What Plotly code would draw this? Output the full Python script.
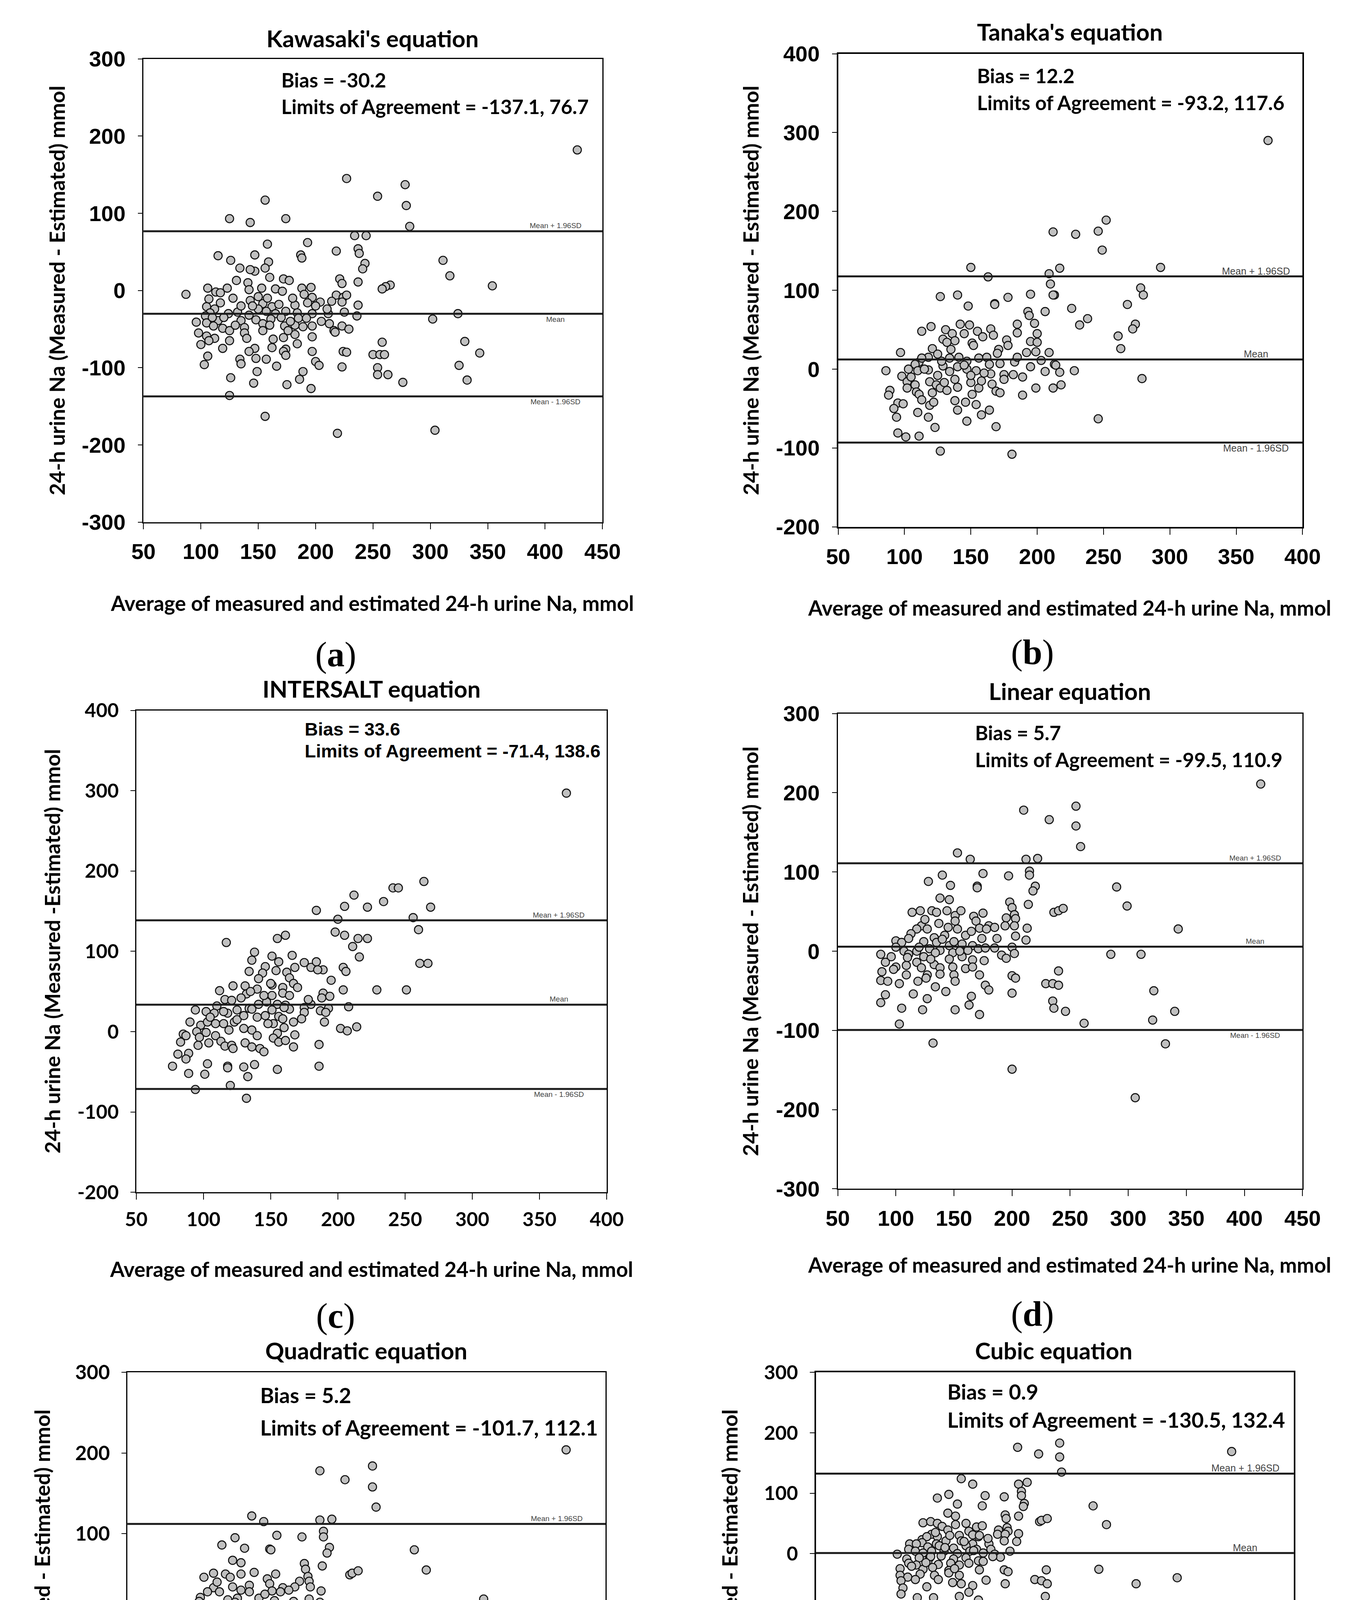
import plotly.graph_objects as go

W, H = 3484, 5179

# ---------------- data ----------------
TITLES = ["Kawasaki's equation", "Tanaka's equation", "INTERSALT equation",
          "Linear equation", "Quadratic equation", "Cubic equation"]
PANEL_LETTERS = ["a", "b", "c", "d", "e", "f"]
BIAS = [-30.2, 12.2, 33.6, 5.7, 5.2, 0.9]
LOA_LOW = [-137.1, -93.2, -71.4, -99.5, -101.7, -130.5]
LOA_HIGH = [76.7, 117.6, 138.6, 110.9, 112.1, 132.4]
X_TICKS = [[50, 100, 150, 200, 250, 300, 350, 400, 450],
           [50, 100, 150, 200, 250, 300, 350, 400],
           [50, 100, 150, 200, 250, 300, 350, 400],
           [50, 100, 150, 200, 250, 300, 350, 400, 450],
           [50, 100, 150, 200, 250, 300, 350, 400, 450],
           [0, 100, 200, 300, 400, 500]]
Y_TICKS = [[-300, -200, -100, 0, 100, 200, 300],
           [-200, -100, 0, 100, 200, 300, 400],
           [-200, -100, 0, 100, 200, 300, 400],
           [-300, -200, -100, 0, 100, 200, 300],
           [-300, -200, -100, 0, 100, 200, 300],
           [-500, -400, -300, -200, -100, 0, 100, 200, 300]]
Y_TITLES = ["24-h urine Na (Measured - Estimated) mmol",
            "24-h urine Na (Measured - Estimated) mmol",
            "24-h urine Na (Measured -Estimated) mmol",
            "24-h urine Na (Measured - Estimated) mmol",
            "24-h urine Na (Measured - Estimated) mmol",
            "24-h urine Na (Measured - Estimated) mmol"]
X_TITLE = "Average of measured and estimated 24-h urine Na, mmol"
LINE_LABELS = ["Mean + 1.96SD", "Mean", "Mean - 1.96SD"]

KAWASAKI = [
    (428, 182), (227, 145), (278, 137), (254, 122), (156, 117), (279, 110), (125, 93), (143, 88), (174, 93), (282, 83),
    (234, 71), (244, 71), (158, 60), (193, 62), (237, 54), (238, 48), (115, 45), (187, 46), (188, 42), (147, 46),
    (126, 39), (218, 51), (159, 37), (243, 35), (241, 28), (134, 29), (147, 25), (143, 27), (156, 29), (311, 39),
    (317, 19), (131, 13), (141, 10), (160, 17), (172, 15), (177, 13), (221, 15), (223, 9), (237, 11), (354, 6),
    (265, 7), (261, 5), (258, 2), (106, 3), (123, 3), (142, 1), (153, 3), (165, 2), (171, -1), (188, 3),
    (196, 4), (87, -5), (113, -2), (117, -3), (107, -11), (190, -5), (197, -9), (218, -6), (224, -9), (227, -6),
    (117, -16), (105, -21), (143, -13), (154, -17), (162, -21), (182, -19), (193, -16), (204, -15), (214, -14), (223, -15),
    (237, -19), (112, -24), (108, -29), (124, -30), (132, -28), (142, -32), (157, -27), (150, -24), (165, -30), (174, -27),
    (184, -29), (197, -30), (211, -30), (225, -28), (236, -33), (302, -37), (324, -30), (104, -33), (115, -39), (96, -41),
    (105, -42), (111, -46), (119, -49), (125, -52), (135, -39), (138, -48), (148, -38), (154, -43), (161, -37), (173, -46),
    (182, -45), (189, -47), (197, -46), (212, -43), (223, -46), (216, -52), (229, -50), (98, -55), (112, -62), (105, -59),
    (125, -65), (138, -55), (154, -52), (163, -63), (172, -61), (182, -57), (197, -60), (217, -54), (258, -67), (330, -66),
    (100, -70), (107, -65), (119, -75), (147, -75), (142, -79), (162, -74), (174, -76), (184, -69), (172, -79), (174, -84),
    (197, -79), (224, -79), (227, -80), (250, -83), (256, -83), (260, -83), (343, -81), (106, -85), (134, -89), (148, -88),
    (157, -89), (200, -92), (103, -96), (135, -95), (166, -98), (203, -97), (223, -99), (254, -100), (325, -97), (149, -105),
    (189, -105), (254, -109), (263, -109), (126, -113), (186, -115), (332, -116), (146, -120), (175, -122), (276, -119), (196, -127),
    (125, -136), (156, -163), (304, -181), (219, -185),
    (120, -35), (130, -45), (145, -20), (160, -45), (170, -35), (180, -10), (200, -20), (128, -10), (150, -8), (178, -40),
    (205, -40), (140, -62), (185, -36), (168, -18), (110, -35), (210, -24), (135, -20), (158, -10), (176, -52), (192, -36),
]

TANAKA = [
    (374, 290), (252, 189), (246, 175), (212, 174), (229, 171), (249, 151), (150, 129), (217, 128), (293, 129), (163, 117),
    (209, 121), (210, 108), (278, 103), (127, 92), (140, 94), (178, 91), (195, 95), (213, 94), (280, 94), (148, 80),
    (168, 83), (168, 82), (226, 77), (206, 73), (193, 73), (194, 68), (238, 64), (268, 82), (274, 57), (272, 51),
    (232, 56), (212, 94), (113, 48), (120, 54), (131, 50), (136, 45), (142, 57), (149, 56), (145, 45), (155, 48),
    (165, 51), (167, 43), (159, 41), (138, 36), (129, 38), (132, 34), (151, 33), (152, 30), (171, 25), (177, 37),
    (185, 57), (185, 46), (198, 58), (200, 45), (195, 35), (192, 21), (200, 34), (199, 22), (178, 30), (261, 42),
    (263, 26), (121, 26), (125, 19), (97, 21), (118, 15), (134, 14), (141, 15), (147, 10), (156, 14), (162, 15),
    (172, 7), (183, 9), (203, 11), (209, 21), (213, 6), (214, 5), (111, 9), (113, 14), (108, 6), (103, 0),
    (86, -2), (98, -9), (110, -2), (118, -1), (129, 4), (134, -3), (140, 3), (147, 0), (154, -2), (164, 6),
    (165, -6), (175, -7), (182, -7), (189, -10), (195, 3), (206, -3), (217, -4), (228, -2), (279, -12), (102, -16),
    (89, -27), (88, -33), (95, -43), (102, -24), (108, -20), (109, -29), (119, -16), (121, -30), (124, -20), (127, -24),
    (130, -17), (132, -27), (138, -13), (140, -23), (150, -17), (151, -32), (156, -24), (158, -15), (166, -19), (169, -28),
    (172, -30), (175, -13), (199, -24), (212, -24), (218, -20), (189, -33), (111, -32), (113, -39), (92, -50), (99, -44),
    (119, -46), (122, -42), (138, -40), (140, -52), (146, -42), (154, -45), (110, -55), (118, -61), (94, -61), (164, -52),
    (158, -58), (147, -66), (246, -63), (123, -74), (169, -73), (95, -81), (101, -86), (111, -85), (127, -104), (181, -108),
    (115, 0), (128, 10), (145, 5), (160, -5), (170, 20), (185, 15), (135, 25), (150, -8), (105, -10), (125, -8),
]

INTERSALT = [
    (370, 297), (264, 187), (241, 179), (245, 179), (212, 170), (234, 162), (269, 155), (205, 156), (222, 155), (184, 151),
    (256, 142), (200, 140), (260, 127), (198, 124), (205, 120), (222, 116), (215, 116), (155, 116), (161, 120), (117, 111),
    (211, 106), (138, 99), (216, 93), (151, 94), (166, 95), (136, 89), (156, 87), (175, 86), (180, 80), (184, 87),
    (189, 77), (168, 80), (185, 77), (204, 80), (206, 75), (261, 85), (267, 85), (146, 81), (134, 75), (144, 73),
    (154, 76), (162, 74), (141, 66), (164, 67), (167, 60), (195, 64), (151, 58), (131, 57), (122, 57), (140, 53),
    (159, 55), (112, 51), (132, 47), (151, 45), (159, 48), (164, 45), (189, 48), (204, 52), (229, 52), (251, 52),
    (194, 44), (188, 42), (128, 42), (116, 40), (121, 39), (141, 34), (147, 37), (155, 34), (161, 33), (175, 30),
    (180, 34), (208, 31), (110, 32), (134, 29), (151, 27), (164, 28), (175, 24), (187, 26), (193, 29), (191, 24),
    (94, 27), (102, 25), (108, 23), (118, 23), (125, 27), (136, 28), (140, 18), (146, 20), (156, 19), (159, 16),
    (173, 16), (167, 12), (190, 12), (152, 10), (202, 4), (207, 1), (214, 6), (90, 12), (98, 8), (103, 12),
    (109, 10), (115, 10), (123, 12), (130, 4), (119, 2), (102, -1), (95, 0), (85, -3), (136, 2), (140, -5),
    (155, -2), (168, -4), (87, -5), (97, -7), (109, -5), (113, -12), (104, -14), (83, -13), (96, -17), (116, -18),
    (121, -17), (131, -14), (136, -19), (142, -21), (145, -25), (152, -8), (156, -13), (161, -11), (167, -19), (186, -16),
    (89, -27), (81, -28), (87, -34), (122, -21), (77, -43), (103, -40), (138, -41), (118, -43), (130, -44), (118, -45),
    (186, -43), (155, -47), (89, -52), (101, -53), (133, -56), (120, -67), (94, -72), (132, -83),
    (125, 15), (145, 45), (160, 30), (170, 55), (130, 20), (150, 60), (115, 25), (178, 40), (148, 10), (135, 50),
    (105, 18), (160, 5),
]

LINEAR = [
    (414, 211), (255, 183), (210, 178), (232, 166), (255, 158), (259, 132), (153, 124), (164, 116), (212, 116), (222, 117),
    (215, 101), (215, 96), (175, 98), (197, 95), (140, 96), (128, 88), (147, 83), (170, 82), (170, 80), (220, 82),
    (218, 76), (290, 81), (138, 67), (146, 65), (198, 62), (200, 55), (214, 59), (299, 57), (236, 49), (240, 51),
    (244, 54), (114, 49), (121, 51), (131, 51), (135, 49), (144, 51), (151, 45), (156, 51), (167, 44), (175, 48),
    (202, 46), (203, 41), (195, 42), (151, 38), (137, 35), (122, 32), (169, 38), (180, 32), (194, 32), (202, 32),
    (213, 29), (343, 28), (118, 28), (127, 28), (153, 28), (172, 29), (178, 28), (113, 22), (133, 17), (142, 20),
    (160, 20), (174, 16), (187, 16), (203, 19), (212, 14), (100, 13), (105, 11), (111, 16), (124, 12), (135, 11),
    (146, 7), (157, 9), (166, 7), (185, 4), (200, 5), (100, 5), (107, 0), (118, 0), (129, 3), (138, 1),
    (149, -2), (162, 1), (171, 3), (177, 4), (87, -4), (96, -7), (111, -4), (124, -7), (134, -2), (146, -10),
    (157, -7), (166, -11), (176, -12), (191, -5), (195, -9), (202, -3), (285, -4), (311, -4), (91, -14), (100, -20),
    (109, -18), (118, -14), (122, -21), (133, -17), (138, -21), (149, -20), (160, -22), (166, -20), (88, -26), (98, -23),
    (109, -30), (127, -30), (138, -29), (150, -30), (172, -30), (200, -31), (203, -34), (240, -25), (87, -37), (93, -38),
    (103, -41), (119, -38), (126, -34), (134, -45), (151, -38), (229, -41), (235, -41), (240, -43), (177, -43), (180, -49),
    (143, -51), (115, -54), (322, -50), (91, -55), (127, -60), (200, -53), (165, -57), (235, -63), (87, -65), (163, -68),
    (105, -72), (123, -74), (151, -74), (236, -72), (246, -76), (172, -80), (340, -76), (321, -87), (262, -91), (103, -92),
    (132, -116), (332, -117), (200, -149), (306, -185),
    (120, 5), (140, 15), (155, 0), (130, -10), (145, 30), (165, 25), (110, -8), (150, 12), (185, 30), (125, 40),
]

QUADRATIC = [
    (417, 204), (255, 184), (211, 178), (232, 167), (255, 158), (258, 133), (154, 122), (164, 115), (211, 117), (221, 118),
    (214, 103), (214, 96), (175, 98), (196, 96), (140, 95), (129, 86), (148, 82), (169, 81), (170, 80), (219, 83),
    (217, 76), (290, 80), (138, 67), (145, 64), (198, 63), (199, 56), (213, 60), (300, 55), (236, 49), (238, 51),
    (243, 54), (114, 46), (122, 51), (132, 50), (136, 46), (145, 50), (156, 52), (167, 44), (174, 50), (201, 47),
    (202, 41), (194, 41), (152, 36), (138, 34), (122, 33), (169, 38), (180, 33), (190, 34), (203, 34), (212, 29),
    (348, 19), (117, 28), (127, 28), (152, 28), (171, 29), (178, 28), (111, 21), (134, 18), (142, 20), (160, 20),
    (173, 17), (189, 16), (202, 19), (211, 15), (100, 12), (104, 10), (110, 16), (122, 12), (134, 11), (145, 7),
    (156, 10), (166, 7), (184, 6), (199, 6), (100, 6), (107, 0), (118, 0), (128, 3), (138, 1), (149, -1),
    (161, 2), (171, 3), (176, 5), (87, -6), (97, -7), (111, -4), (123, -6), (134, -2), (145, -9), (156, -6),
    (166, -10), (175, -11), (191, -6), (195, -9), (202, -2), (288, -9), (315, -10), (92, -13), (100, -18), (110, -17),
    (118, -13), (122, -19), (133, -16), (138, -19), (149, -18), (160, -20), (166, -18), (88, -25), (99, -22), (110, -28),
    (128, -29), (139, -27), (150, -29), (172, -28), (200, -32), (203, -33), (240, -26), (88, -35), (94, -37), (109, -30),
    (120, -36), (127, -33), (135, -43), (152, -36), (229, -42), (236, -42), (240, -45), (176, -42), (180, -49), (143, -50),
    (114, -53), (91, -54), (126, -59), (166, -55), (199, -53), (328, -61), (163, -65), (87, -64), (237, -65), (123, -71),
    (105, -71), (151, -72), (237, -75), (248, -79), (172, -79), (348, -92), (103, -91), (265, -97), (328, -100), (132, -114),
    (341, -137), (203, -151), (316, -204),
    (120, 5), (140, 15), (155, 0), (130, -10), (145, 30), (165, 25), (110, -8), (150, 12), (185, 30), (125, 40),
]

CUBIC = [
    (435, 169), (255, 183), (211, 176), (233, 165), (255, 160), (257, 135), (152, 124), (164, 115), (212, 115), (221, 118),
    (215, 103), (215, 96), (139, 98), (177, 96), (127, 92), (197, 94), (290, 79), (148, 82), (174, 79), (218, 83),
    (217, 78), (138, 67), (146, 62), (212, 62), (198, 64), (199, 58), (304, 48), (234, 53), (236, 55), (242, 58),
    (112, 51), (120, 53), (127, 50), (132, 45), (146, 48), (157, 50), (168, 44), (174, 46), (200, 43), (201, 37),
    (191, 39), (138, 39), (121, 32), (111, 23), (160, 37), (170, 28), (190, 32), (198, 32), (212, 33), (116, 28),
    (127, 28), (150, 30), (164, 31), (171, 30), (111, 18), (126, 16), (136, 21), (152, 21), (164, 16), (181, 16),
    (197, 21), (210, 20), (98, 16), (105, 16), (117, 11), (129, 13), (144, 9), (157, 13), (168, 7), (183, 7),
    (203, 4), (97, 7), (104, 4), (112, 1), (121, 4), (134, 4), (148, 0), (161, 4), (175, 1), (187, -1),
    (85, -1), (95, -9), (108, -7), (119, -7), (131, -4), (144, -9), (157, -7), (170, -12), (193, -6), (97, -16),
    (105, -19), (117, -14), (128, -18), (141, -16), (150, -19), (160, -16), (175, -13), (88, -25), (100, -21), (112, -26),
    (122, -23), (139, -28), (171, -27), (197, -27), (201, -30), (296, -26), (241, -27), (88, -36), (96, -39), (109, -34),
    (124, -36), (139, -32), (150, -36), (128, -43), (143, -48), (152, -50), (178, -44), (229, -43), (236, -45), (242, -50),
    (378, -40), (335, -50), (89, -45), (104, -43), (116, -55), (91, -57), (198, -50), (150, -71), (164, -53), (160, -64),
    (240, -71), (89, -67), (106, -73), (123, -73), (170, -77), (241, -84), (255, -94), (104, -94), (130, -112), (281, -131),
    (371, -149), (207, -161), (388, -220), (426, -247), (433, -321), (422, -416),
    (120, -5), (135, 10), (155, 20), (145, -25), (165, 5), (180, 25), (115, -15), (125, 35), (185, -5), (140, 30),
]

POINTS = [KAWASAKI, TANAKA, INTERSALT, LINEAR, QUADRATIC, CUBIC]

# ---------------- layout (pixels in the 3484 x 5179 page) ----------------
CAL = "Lato"
ARI = "Liberation Sans"
TIM = "Liberation Serif"

# plot boxes: left, top, right, bottom
BOXES = [(344, 120, 1546, 1321), (2163, 107, 3379, 1333),
         (325, 1809, 1557, 3058), (2162, 1817, 3379, 3049),
         (302, 3525, 1554, 4779), (2105, 3525, 3356, 4777)]
TICK_FONT = [(ARI, 56), (ARI, 56), (CAL, 50), (ARI, 56), (CAL, 51), (CAL, 50)]
AXIS_W = [2.5, 4, 2.5, 3, 2.5, 4]
TITLE_POS = [(944, 67), (2769, 50), (941, 1753), (2769, 1759), (927, 3468), (2728, 3468)]
YTITLE_X = [117, 1933, 105, 1933, 78, 1879]
XTITLE_POS = [(943, 1530), (2769, 1543), (941, 3257), (2769, 3246), (927, 4983), (2729, 4988)]
LETTER_POS = [(847, 1665), (2672, 1659), (847, 3379), (2672, 3374), (833, 5102), (2636, 5105)]
TEXT_POS = [(703, 175, 244), (2525, 164, 233), (764, 1857, 1914),
            (2519, 1867, 1936), (647, 3584, 3668), (2447, 3575, 3648)]
TEXT_FONT = [(CAL, 51), (CAL, 51), (ARI, 47), (CAL, 51), (CAL, 54), (CAL, 54)]
LBL_X = [1423, 3257, 1432, 3255, 1426, 3229]
LBL_SIZE = [19, 25, 19, 19, 19, 25]
# +1 above the line, -1 below (order: upper, mean, lower)
LBL_SIDE = [(1, -1, -1), (1, 1, -1), (1, 1, -1), (1, 1, -1), (1, 1, -1), (1, 1, -1)]


def fx(p):
    return p / W


def fy(p):
    return 1 - p / H


fig = go.Figure()
annotations = []
shapes = []
layout = {}

for i in range(6):
    s = "" if i == 0 else str(i + 1)
    xa, ya = "x" + s, "y" + s
    L, T, R, B = BOXES[i]
    pts = POINTS[i]
    fig.add_trace(go.Scatter(
        x=[p[0] for p in pts], y=[p[1] for p in pts], mode="markers",
        xaxis=xa, yaxis=ya, showlegend=False, cliponaxis=False,
        marker=dict(size=21, color="#C0C0C0", line=dict(color="#111111", width=2.6)),
    ))
    tf = dict(family=TICK_FONT[i][0], size=TICK_FONT[i][1], color="black", weight="bold")
    common = dict(showline=True, mirror=True, linecolor="black", linewidth=AXIS_W[i],
                  ticks="outside", tickcolor="black", tickwidth=2, showgrid=False,
                  zeroline=False, tickfont=tf, fixedrange=True)
    xt, yt = X_TICKS[i], Y_TICKS[i]
    layout["xaxis" + s] = dict(domain=[fx(L), fx(R)], range=[xt[0], xt[-1]],
                               tickmode="array", tickvals=xt, ticktext=[str(v) for v in xt],
                               anchor=ya, ticklen=16, ticklabelstandoff=8, **common)
    layout["yaxis" + s] = dict(domain=[fy(B), fy(T)], range=[yt[0], yt[-1]],
                               tickmode="array", tickvals=yt, ticktext=[str(v) for v in yt],
                               anchor=xa, ticklen=12, ticklabelstandoff=20, **common)
    vals = [LOA_HIGH[i], BIAS[i], LOA_LOW[i]]
    for k, v in enumerate(vals):
        shapes.append(dict(type="line", xref=xa + " domain", yref=ya, x0=0, x1=1,
                           y0=v, y1=v, line=dict(color="#1c1c1c", width=5), layer="above"))
        annotations.append(dict(text=LINE_LABELS[k], xref="paper", yref=ya, x=fx(LBL_X[i]), y=v,
                                xanchor="center", yanchor="middle", showarrow=False,
                                yshift=14 * LBL_SIDE[i][k],
                                font=dict(family=ARI, size=LBL_SIZE[i], color="#444444")))
    # title
    annotations.append(dict(text=TITLES[i], xref="paper", yref="paper",
                            x=fx(TITLE_POS[i][0]), y=fy(TITLE_POS[i][1]),
                            xanchor="center", yanchor="middle", showarrow=False,
                            font=dict(family=CAL, size=60, color="black", weight="bold")))
    # axis titles
    annotations.append(dict(text=Y_TITLES[i], xref="paper", yref="paper",
                            x=fx(YTITLE_X[i]), y=fy((T + B) / 2), textangle=-90,
                            xanchor="center", yanchor="middle", showarrow=False,
                            font=dict(family=CAL, size=54, color="black", weight="bold")))
    annotations.append(dict(text=X_TITLE, xref="paper", yref="paper",
                            x=fx(XTITLE_POS[i][0]), y=fy(XTITLE_POS[i][1]),
                            xanchor="center", yanchor="middle", showarrow=False,
                            font=dict(family=CAL, size=53, color="black", weight="bold")))
    # bias / limits text
    tx, ty1, ty2 = TEXT_POS[i]
    tfnt = dict(family=TEXT_FONT[i][0], size=TEXT_FONT[i][1], color="black", weight="bold")
    annotations.append(dict(text="Bias = %s" % BIAS[i], xref="paper", yref="paper",
                            x=fx(tx), y=fy(ty1), xanchor="left", yanchor="middle",
                            showarrow=False, font=tfnt))
    annotations.append(dict(text="Limits of Agreement = %s, %s" % (LOA_LOW[i], LOA_HIGH[i]),
                            xref="paper", yref="paper", x=fx(tx), y=fy(ty2),
                            xanchor="left", yanchor="middle", showarrow=False, font=tfnt))
    # panel letter
    annotations.append(dict(text="(<b>%s</b>)" % PANEL_LETTERS[i], xref="paper", yref="paper",
                            x=fx(LETTER_POS[i][0]), y=fy(LETTER_POS[i][1]),
                            xanchor="center", yanchor="middle", showarrow=False,
                            font=dict(family=TIM, size=90, color="black")))

fig.update_layout(
    width=W, height=H, margin=dict(l=0, r=0, t=0, b=0),
    paper_bgcolor="white", plot_bgcolor="white",
    annotations=annotations, shapes=shapes, **layout,
)
fig.write_html("out.html", config={"displayModeBar": False},
               post_script="document.body.style.margin='0px';document.body.style.overflow='hidden';")
